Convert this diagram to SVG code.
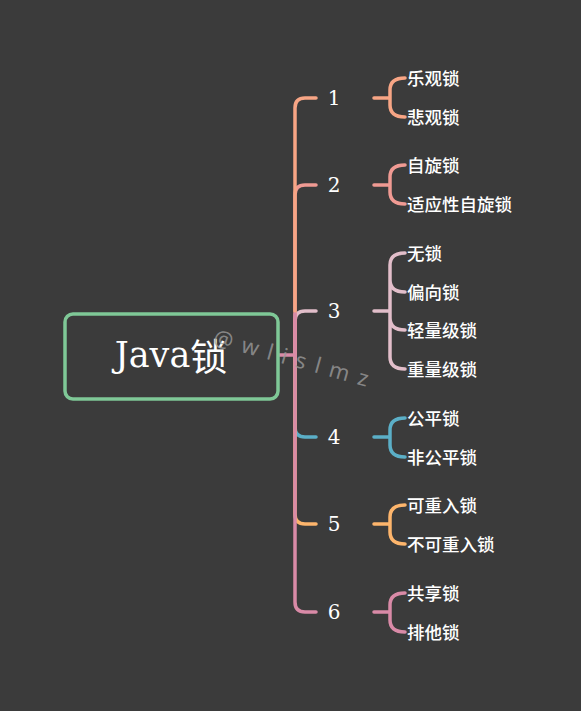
<svg xmlns="http://www.w3.org/2000/svg" width="581" height="711" viewBox="0 0 581 711">
<style>
.ln{fill:none;stroke-width:3.5;stroke-linecap:round;stroke-linejoin:round}
.num{font-family:"DejaVu Serif","Liberation Serif",serif;font-size:20px;fill:#ffffff;text-anchor:middle;dominant-baseline:central}
.lab{font-family:"Noto Sans CJK SC",sans-serif;font-size:17.5px;font-weight:500;fill:#ffffff;dominant-baseline:central}
.c1{stroke:#F7A585}.c2{stroke:#F09A93}.c3{stroke:#E2BECA}.c4{stroke:#5BAFC7}.c5{stroke:#FDB56C}.c6{stroke:#D98AA7}
</style>
<rect width="581" height="711" fill="#3B3B3B"/>
<g id="connectors">
<path class="ln c3" d="M295,355 V321 Q295,311 305,311 H316"/>
<path class="ln c2" d="M295,355 V195 Q295,185 305,185 H316"/>
<path class="ln c1" d="M295,311 V108 Q295,98 305,98 H316"/>
<path class="ln c4" d="M295,355 V427 Q295,437 305,437 H316"/>
<path class="ln c5" d="M295,355 V514 Q295,524 305,524 H316"/>
<path class="ln c6" d="M295,314 V602 Q295,612 305,612 H316"/>
<path class="ln c6" d="M279,355 H295"/>
<path class="ln c1" d="M374,98 H390 M405,78 Q390,78 390,90 V105 Q390,117 405,117"/>
<path class="ln c2" d="M374,185 H390 M405,165 Q390,165 390,177 V192 Q390,204 405,204"/>
<path class="ln c3" d="M374,311 H390 M405,253 Q390,253 390,265 V357 Q390,369 405,369 M390,280 Q390,292 405,292 M390,318 Q390,330 405,330"/>
<path class="ln c4" d="M374,437 H390 M405,418 Q390,418 390,430 V445 Q390,457 405,457"/>
<path class="ln c5" d="M374,524 H390 M405,505 Q390,505 390,517 V532 Q390,544 405,544"/>
<path class="ln c6" d="M374,612 H390 M405,593 Q390,593 390,605 V620 Q390,632 405,632"/>
</g>
<g id="root">
<rect x="65" y="314" width="213" height="85" rx="8" fill="#3B3B3B" stroke="#7FC897" stroke-width="3.5"/>
<text x="171" y="355" font-family="DejaVu Serif,Noto Sans CJK SC,serif" font-size="35" fill="#ffffff" text-anchor="middle" dominant-baseline="central">Java<tspan font-family="Noto Sans CJK SC,sans-serif" font-size="37">锁</tspan></text>
</g>
<g id="n1"><text class="num" x="334" y="98">1</text></g>
<g id="n2"><text class="num" x="334" y="185">2</text></g>
<g id="n3"><text class="num" x="334" y="311">3</text></g>
<g id="n4"><text class="num" x="334" y="437">4</text></g>
<g id="n5"><text class="num" x="334" y="524">5</text></g>
<g id="n6"><text class="num" x="334" y="612">6</text></g>
<g id="l1a"><text class="lab" x="407" y="77">乐观锁</text></g>
<g id="l1b"><text class="lab" x="407" y="116">悲观锁</text></g>
<g id="l2a"><text class="lab" x="407" y="164">自旋锁</text></g>
<g id="l2b"><text class="lab" x="407" y="203">适应性自旋锁</text></g>
<g id="l3a"><text class="lab" x="407" y="252">无锁</text></g>
<g id="l3b"><text class="lab" x="407" y="291">偏向锁</text></g>
<g id="l3c"><text class="lab" x="407" y="329">轻量级锁</text></g>
<g id="l3d"><text class="lab" x="407" y="368">重量级锁</text></g>
<g id="l4a"><text class="lab" x="407" y="417">公平锁</text></g>
<g id="l4b"><text class="lab" x="407" y="456">非公平锁</text></g>
<g id="l5a"><text class="lab" x="407" y="504">可重入锁</text></g>
<g id="l5b"><text class="lab" x="407" y="543">不可重入锁</text></g>
<g id="l6a"><text class="lab" x="407" y="592">共享锁</text></g>
<g id="l6b"><text class="lab" x="407" y="631">排他锁</text></g>
<text x="212" y="344" transform="rotate(15.5 212 344)" font-family="Noto Sans,sans-serif" font-size="22" fill="#9a9a9a" fill-opacity="0.8" letter-spacing="9.2">@wlislmz</text>
</svg>
